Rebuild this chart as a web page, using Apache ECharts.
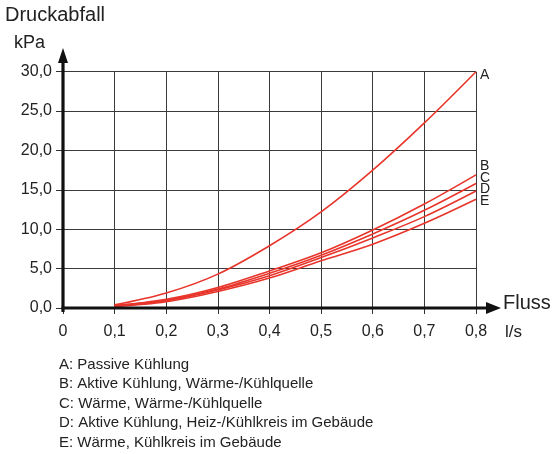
<!DOCTYPE html>
<html><head><meta charset="utf-8">
<script src="https://cdn.jsdelivr.net/npm/echarts@6/dist/echarts.min.js"></script>
<style>html,body{margin:0;padding:0;background:#fff}#c{width:555px;height:454px}</style>
</head><body><div id="c"></div>
<script>
const flow = [0.1, 0.2, 0.3, 0.4, 0.5, 0.6, 0.7, 0.8];
const seriesNames = ['A', 'B', 'C', 'D', 'E'];
const valsA = [0.4, 1.9, 4.3, 7.9, 12.2, 17.5, 23.5, 30.0];
const valsB = [0.3, 1.1, 2.6, 4.7, 7.0, 9.9, 13.2, 16.9];
const valsC = [0.3, 1.0, 2.4, 4.4, 6.7, 9.4, 12.4, 15.8];
const valsD = [0.25, 0.9, 2.3, 4.1, 6.4, 8.9, 11.6, 14.85];
const valsE = [0.2, 0.8, 2.1, 3.8, 6.0, 8.1, 10.75, 13.8];
const legendLines = [
  'A: Passive Kühlung',
  'B: Aktive Kühlung, Wärme-/Kühlquelle',
  'C: Wärme, Wärme-/Kühlquelle',
  'D: Aktive Kühlung, Heiz-/Kühlkreis im Gebäude',
  'E: Wärme, Kühlkreis im Gebäude'
];
const yTitle = 'Druckabfall';
const yUnit = 'kPa';
const xTitle = 'Fluss';
const xUnit = 'l/s';

const allVals = [valsA, valsB, valsC, valsD, valsE];
const labelOffsets = [[0, 3], [0, -8.3], [0, -5.3], [0, -1.5], [0, 2]];
const RED = '#e8352b';
const FONT = '"Liberation Sans", Arial, sans-serif';

const chart = echarts.init(document.getElementById('c'));
const series = seriesNames.map((n, i) => ({
  name: n, type: 'line', smooth: 0.35, symbol: 'none',
  data: flow.map((x, j) => [x, allVals[i][j]]),
  lineStyle: { color: RED, width: 1.6 },
  endLabel: { show: true, formatter: n, color: '#222', fontSize: 14, fontFamily: FONT,
              distance: 4, offset: labelOffsets[i] },
  z: 5
}));

chart.setOption({
  animation: false,
  grid: { left: 63, right: 79, top: 71.7, bottom: 146, containLabel: false },
  xAxis: {
    type: 'value', min: 0, max: 0.8, interval: 0.1,
    axisLine: { show: false },
    axisTick: { show: true, length: 6, lineStyle: { color: '#333', width: 1 } },
    splitLine: { show: true, lineStyle: { color: '#3a3a3a', width: 1 } },
    axisLabel: { margin: 16, fontSize: 16, color: '#222', fontFamily: FONT,
      formatter: v => v === 0 ? '0' : v.toFixed(1).replace('.', ',') }
  },
  yAxis: {
    type: 'value', min: 0, max: 30, interval: 5,
    axisLine: { show: false },
    axisTick: { show: true, length: 7, lineStyle: { color: '#333', width: 1 } },
    splitLine: { show: true, lineStyle: { color: '#3a3a3a', width: 1 } },
    axisLabel: { margin: 11, fontSize: 16, color: '#222', fontFamily: FONT,
      formatter: v => v.toFixed(1).replace('.', ',') }
  },
  series: series
});

const o = chart.convertToPixel({ gridIndex: 0 }, [0, 0]);
const xEnd = chart.convertToPixel({ gridIndex: 0 }, [0.8, 0]);
const x0 = o[0], y0 = o[1];
const g = [];
// x axis with arrow
g.push({ type: 'line', shape: { x1: x0 - 1.5, y1: y0, x2: 488, y2: y0 }, style: { stroke: '#111', lineWidth: 3.2 }, z: 10 });
g.push({ type: 'polygon', shape: { points: [[486, y0 - 6], [501, y0], [486, y0 + 6]] }, style: { fill: '#111' }, z: 10 });
// y axis with arrow
g.push({ type: 'line', shape: { x1: x0, y1: y0 + 4, x2: x0, y2: 60 }, style: { stroke: '#111', lineWidth: 3.2 }, z: 10 });
g.push({ type: 'polygon', shape: { points: [[x0 - 5, 63], [x0, 48], [x0 + 5, 63]] }, style: { fill: '#111' }, z: 10 });
// titles
g.push({ type: 'text', left: 5, top: 5, style: { text: yTitle, fontSize: 20, fill: '#222', fontFamily: FONT }, z: 10 });
g.push({ type: 'text', left: 14, top: 34, style: { text: yUnit, fontSize: 18, fill: '#222', fontFamily: FONT }, z: 10 });
g.push({ type: 'text', left: 503, top: 293, style: { text: xTitle, fontSize: 20, fill: '#222', fontFamily: FONT }, z: 10 });
g.push({ type: 'text', left: 505, top: 324, style: { text: xUnit, fontSize: 17, fill: '#222', fontFamily: FONT }, z: 10 });
legendLines.forEach((t, i) => {
  g.push({ type: 'text', left: 59, top: 357 + i * 19.5, style: { text: t, fontSize: 15, fill: '#222', fontFamily: FONT }, z: 10 });
});
chart.setOption({ graphic: g });
</script></body></html>
